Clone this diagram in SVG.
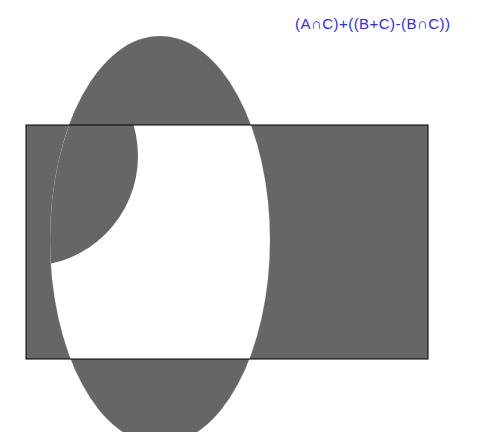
<svg xmlns="http://www.w3.org/2000/svg" width="484" height="432" viewBox="0 0 484 432">
  <style>
    .fill { fill: #666666; }
    .edge { fill: none; stroke: #000; stroke-width: 1; }
    .label { font-family: "Liberation Sans", Arial, sans-serif; font-size: 15px; fill: #2a2aff; }
  </style>
  <defs>
    <clipPath id="clipC">
      <ellipse cx="160" cy="240" rx="110" ry="204"/>
    </clipPath>
  </defs>
  <rect width="484" height="432" fill="#fff"/>
  <g id="xor-BC">
    <path class="fill" fill-rule="evenodd" d="M26,125 H428 V359 H26 Z M50,240 A110,204 0 1,0 270,240 A110,204 0 1,0 50,240 Z"/>
  </g>
  <g id="A-and-C">
    <circle class="fill" cx="28" cy="156" r="110" clip-path="url(#clipC)"/>
  </g>
  <g id="seam">
    <ellipse cx="160" cy="240" rx="110" ry="204" fill="none" stroke="#999" stroke-width="0.3" stroke-opacity="0.6"/>
  </g>
  <g id="B-outline">
    <rect class="edge" x="26" y="125" width="402" height="234"/>
  </g>
  <g id="expression">
    <text class="label" x="295" y="29" textLength="155" lengthAdjust="spacing">(A∩C)+((B+C)-(B∩C))</text>
  </g>
</svg>
